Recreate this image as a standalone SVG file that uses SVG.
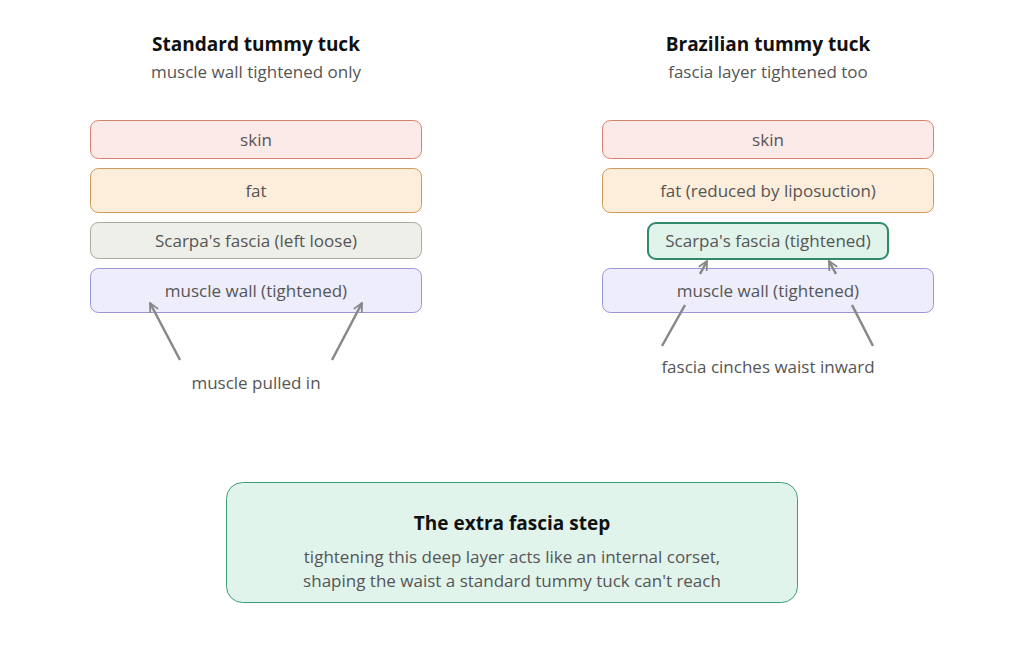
<svg xmlns="http://www.w3.org/2000/svg" width="1024" height="663" viewBox="0 0 1024 663">
<defs>
<style>
text{font-family:"Open Sans","Noto Sans","Liberation Sans",sans-serif;text-anchor:middle}
.t{font-size:19px;font-weight:bold;fill:#111}
.s{font-size:17px;fill:#555}
.l{font-size:17px;fill:#555}
.skin{fill:#fbeae7;stroke:#d4826e;stroke-width:1}
.fat{fill:#fdeedb;stroke:#cc9a5c;stroke-width:1}
.loose{fill:#efefe9;stroke:#a9a9a2;stroke-width:1}
.mus{fill:#ededfc;stroke:#9b96dc;stroke-width:1}
.tight{fill:#e1f4ec;stroke:#2f8a68;stroke-width:2}
.note{fill:#e1f4ec;stroke:#3d9c7a;stroke-width:1}
.c{fill:none;stroke:#888;stroke-width:2.5}
</style>
<marker id="ah" viewBox="0 0 10 10" refX="9" refY="5" markerWidth="4.5" markerHeight="4.5" orient="auto" markerUnits="strokeWidth">
<path d="M1,1 L9,5 L1,9" fill="none" stroke="#888" stroke-width="1.6"/>
</marker>
</defs>
<rect width="1024" height="663" fill="#fff"/>
<g id="title-left">
<text class="t" x="256" y="51">Standard tummy tuck</text>
<text class="s" x="256" y="78">muscle wall tightened only</text>
</g>
<g id="title-right">
<text class="t" x="768" y="51">Brazilian tummy tuck</text>
<text class="s" x="768" y="78">fascia layer tightened too</text>
</g>
<g id="l-skin"><rect class="skin" x="90.5" y="120.5" width="331" height="38" rx="8"/><text class="l" x="256" y="146">skin</text></g>
<g id="l-fat"><rect class="fat" x="90.5" y="168.5" width="331" height="44" rx="8"/><text class="l" x="256" y="197">fat</text></g>
<g id="l-scarpa"><rect class="loose" x="90.5" y="222.5" width="331" height="36" rx="8"/><text class="l" x="256" y="247">Scarpa's fascia (left loose)</text></g>
<g id="l-muscle"><rect class="mus" x="90.5" y="268.5" width="331" height="44" rx="8"/><text class="l" x="256" y="297">muscle wall (tightened)</text></g>
<g id="r-skin"><rect class="skin" x="602.5" y="120.5" width="331" height="38" rx="8"/><text class="l" x="768" y="146">skin</text></g>
<g id="r-fat"><rect class="fat" x="602.5" y="168.5" width="331" height="44" rx="8"/><text class="l" x="768" y="197">fat (reduced by liposuction)</text></g>
<g id="r-muscle"><rect class="mus" x="602.5" y="268.5" width="331" height="44" rx="8"/><text class="l" x="768" y="297">muscle wall (tightened)</text></g>
<g id="r-scarpa"><rect class="tight" x="648" y="223" width="240" height="36" rx="8"/><text class="l" x="768" y="247">Scarpa's fascia (tightened)</text></g>
<g id="connectors">
<path class="c" d="M180,360 L150,303" marker-end="url(#ah)"/>
<path class="c" d="M332,360 L362,303" marker-end="url(#ah)"/>
<path class="c" d="M662,346 L685,305 M700,274 L707,261" marker-end="url(#ah)"/>
<path class="c" d="M873,346 L852,305 M836,274 L829,261" marker-end="url(#ah)"/>
</g>
<g id="lbl-left"><text class="l" x="256" y="389">muscle pulled in</text></g>
<g id="lbl-right"><text class="l" x="768" y="373">fascia cinches waist inward</text></g>
<g id="note">
<rect class="note" x="226.5" y="482.5" width="571" height="120" rx="16"/>
<text class="t" x="512" y="530">The extra fascia step</text>
<text class="s" x="512" y="563">tightening this deep layer acts like an internal corset,</text>
<text class="s" x="512" y="587">shaping the waist a standard tummy tuck can't reach</text>
</g>
</svg>
